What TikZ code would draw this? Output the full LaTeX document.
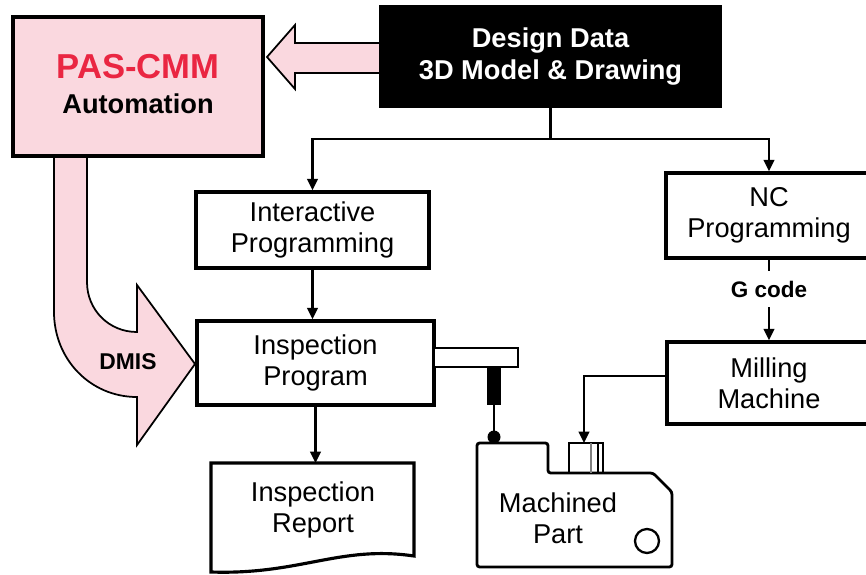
\documentclass[tikz,border=0pt]{standalone}
\usepackage{fontspec}
\setmainfont{Liberation Sans}
\usepackage{tikz}
\usetikzlibrary{arrows.meta,calc,positioning}
\definecolor{paspink}{RGB}{250,216,223}
\definecolor{pasred}{RGB}{234,38,66}

\begin{document}
\begin{tikzpicture}[x=0.02cm,y=-0.02cm,
  box/.style={draw,line width=2pt,fill=white,align=center,inner sep=0pt,font=\fontsize{15.5}{17.8}\selectfont},
  flow/.style={line width=1.4pt,-{Triangle[length=6.5pt,width=6pt]}},
  bigarrow/.style={draw,line width=1pt,fill=paspink}]
\clip (0,0) rectangle (866,575);
\fill[white] (0,0) rectangle (866,575);
\draw[bigarrow] (381,43) -- (295,43) -- (295,25) -- (267,57) -- (295,89) -- (295,73) -- (381,73);
\draw[bigarrow] (87,156) -- (87,282) .. controls (87,310) and (109,332) .. (137,332) -- (137,285) -- (195,364) -- (137,445) -- (137,397) .. controls (90,397) and (54,359) .. (54,312) -- (54,156) -- cycle;
\node[box,fill=paspink,minimum width=5cm,minimum height=2.78cm] (pas) at (138,86.5) {};
\node[anchor=base,text=pasred,font=\bfseries\fontsize{19.7}{22}\selectfont] (pastitle) at (138,78) {PAS-CMM};
\node[anchor=base,font=\bfseries\fontsize{15.5}{17.8}\selectfont] (pasauto) at (138,113) {Automation};
\node[font=\bfseries\fontsize{13}{15}\selectfont] (dmis) at (128,362) {DMIS};
\node[box,fill=black,text=white,font=\bfseries\fontsize{15.5}{17.8}\selectfont,minimum width=6.78cm,minimum height=1.98cm] (design) at (550.5,56.5) {Design Data\\3D Model \& Drawing};
\node[box,minimum width=4.66cm,minimum height=1.52cm] (inter) at (312.5,230) {Interactive\\Programming};
\node[box,minimum width=4.12cm,minimum height=1.7cm] (nc) at (769,215.5) {NC\\Programming};
\node[box,minimum width=4.74cm,minimum height=1.68cm] (insp) at (315.5,363) {Inspection\\Program};
\node[box,minimum width=4.08cm,minimum height=1.64cm] (mill) at (769,383) {Milling\\Machine};
\node[font=\bfseries\fontsize{12.8}{14}\selectfont,inner sep=5.5pt] (gcode) at (769,289) {G code};
\draw[line width=1.8pt,fill=white] (211,463) -- (414,463) -- (414,556) .. controls (340,545) and (300,575) .. (211,572) -- cycle;
\node[align=center,font=\fontsize{15.5}{17.8}\selectfont] (report) at (313,510) {Inspection\\Report};
\coordinate (reporttop) at (313,463);
\draw[line width=1.4pt] (design.south) -- ++(0,31) coordinate (split);
\draw[flow] (split) -| (inter.north);
\draw[flow] (split) -| (nc.north);
\draw[flow] (inter.south) -- (inter.south |- insp.north);
\draw[flow] (insp.south) -- (insp.south |- reporttop);
\draw[line width=1.4pt] (nc.south) -- (gcode.north);
\draw[flow] (gcode.south) -- (mill.north);
\draw[line width=1.1pt,fill=white] (434,348) rectangle (518,367);
\fill (487,367) rectangle (501,405);
\draw[line width=1pt] (494,405) -- (494,437);
\fill (494,437) circle[radius=0.13cm];
\draw[line width=1.6pt,rounded corners=1.5pt] (477,443) -- (548,443) -- (548,473) -- (653,473) -- (672,492) -- (672,567) -- (477,567) -- cycle;
\draw[line width=1.6pt] (569,443) rectangle (603,473);
\draw[gray,line width=0.7pt] (591,443) -- (591,473);
\draw[line width=0.7pt] (598,443) -- (598,473);
\draw[line width=1.3pt] (647,541) circle[radius=0.24cm];
\node[align=center,font=\fontsize{15.5}{17.8}\selectfont] (part) at (558,518) {Machined\\Part};
\coordinate (chuck) at (584,443);
\draw[flow] ($(mill.west)+(0,-7)$) -| (chuck);
\end{tikzpicture}
\end{document}
